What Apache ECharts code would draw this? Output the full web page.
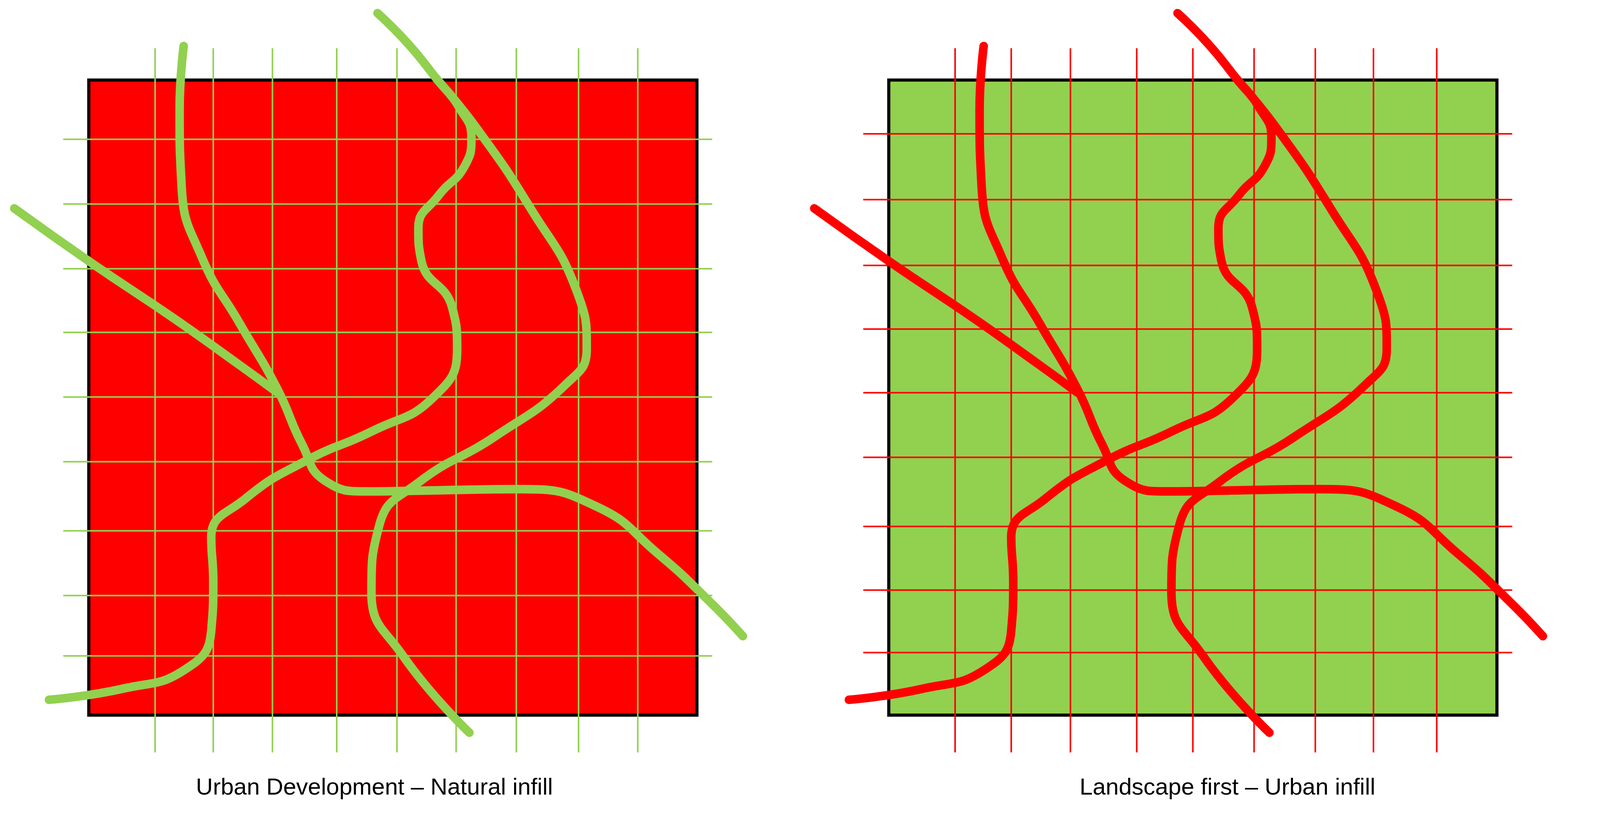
<!DOCTYPE html>
<html>
<head>
  <meta charset="UTF-8">
  <title>Urban Development / Landscape first</title>
  <style>
    html, body { margin: 0; padding: 0; background: #fff; overflow: hidden; }
    #main { width: 100vw; height: 100vh; }
  </style>
  <script src="https://cdn.jsdelivr.net/npm/echarts@6/dist/echarts.min.js"></script>
</head>
<body>
  <div id="main"></div>
  <script>
    // panel coordinates in a 784 x 754 local frame (both panels share it)
    var squareBox = [87, 73, 683, 652];

    var leftVTicks = [152, 209, 267, 330, 389, 447, 506, 567, 625];
    var leftHTicks = [127, 186, 245, 303, 362, 421, 484, 543, 598];
    var rightVTicks = [152, 207, 265, 330, 385, 445, 505, 562, 624];
    var rightHTicks = [122, 182, 242, 300, 358, 417, 480, 538, 595];
    var vSpan = [44, 686];
    var hSpan = [62, 698];

    var curveA = [[180, 42], [176, 100], [178, 170], [198, 235], [235, 295], [272, 355], [296, 405], [318, 438], [360, 448], [430, 447], [510, 446], [585, 462], [645, 505], [695, 548], [728, 580]];
    var curveB = [[14, 190], [90, 240], [170, 290], [235, 333], [272, 358]];
    var curveC = [[48, 638], [120, 628], [182, 610], [207, 575], [209, 530], [207, 490], [240, 455], [300, 420], [365, 393], [425, 362], [448, 318], [443, 280], [413, 238], [410, 208], [430, 178], [455, 152], [462, 125], [450, 98], [428, 72], [400, 40], [370, 12]];
    var curveD = [[428, 72], [468, 118], [520, 190], [565, 265], [575, 318], [555, 350], [485, 398], [410, 440], [372, 478], [364, 540], [395, 598], [460, 668]];

    var panels = [
      { fill: '#ff0000', ink: '#92d050', v: leftVTicks, h: leftHTicks, label: 'Urban Development \u2013 Natural infill', cx: 365 },
      { fill: '#92d050', ink: '#ff0000', v: rightVTicks, h: rightHTicks, label: 'Landscape first \u2013 Urban infill', cx: 417 }
    ];

    var el = document.getElementById('main');
    var chart = echarts.init(el);
    var S = el.clientWidth / 1568;

    var grids = [], xAxes = [], yAxes = [], series = [], titles = [];
    panels.forEach(function (p, i) {
      grids.push({ left: (i * 50) + '%', top: 0, width: '50%', height: '100%', containLabel: false });
      xAxes.push({ gridIndex: i, type: 'value', min: 0, max: 784, show: false });
      yAxes.push({ gridIndex: i, type: 'value', min: 0, max: 754, inverse: true, show: false });

      series.push({
        type: 'custom', xAxisIndex: i, yAxisIndex: i, z: 1,
        data: [squareBox],
        renderItem: function (params, api) {
          var a = api.coord([api.value(0), api.value(1)]);
          var b = api.coord([api.value(2), api.value(3)]);
          return {
            type: 'rect',
            shape: { x: a[0], y: a[1], width: b[0] - a[0], height: b[1] - a[1] },
            style: { fill: p.fill, stroke: '#000', lineWidth: 8 }
          };
        }
      });

      var gridData = [];
      p.v.forEach(function (x) { gridData.push([x, vSpan[0]], [x, vSpan[1]], '-'); });
      p.h.forEach(function (y) { gridData.push([hSpan[0], y], [hSpan[1], y], '-'); });
      series.push({
        type: 'line', xAxisIndex: i, yAxisIndex: i, z: 2, data: gridData,
        showSymbol: false, connectNulls: false, silent: true,
        lineStyle: { color: p.ink, width: 4 }
      });

      [curveA, curveB, curveC, curveD].forEach(function (c) {
        series.push({
          type: 'line', xAxisIndex: i, yAxisIndex: i, z: 3, data: c,
          smooth: 0.5, showSymbol: false, silent: true,
          lineStyle: { color: p.ink, width: 22, cap: 'round', join: 'round' }
        });
      });

      titles.push({
        text: p.label, left: ((i * 784 + p.cx) / 15.68) + '%', top: (706 / 7.54) + '%', textAlign: 'center',
        textStyle: { fontFamily: 'Liberation Sans', fontWeight: 'normal', fontSize: Math.round(23 * S), color: '#000' }
      });
    });

    chart.setOption({
      animation: false,
      title: titles,
      grid: grids,
      xAxis: xAxes,
      yAxis: yAxes,
      series: series
    });
  </script>
</body>
</html>
